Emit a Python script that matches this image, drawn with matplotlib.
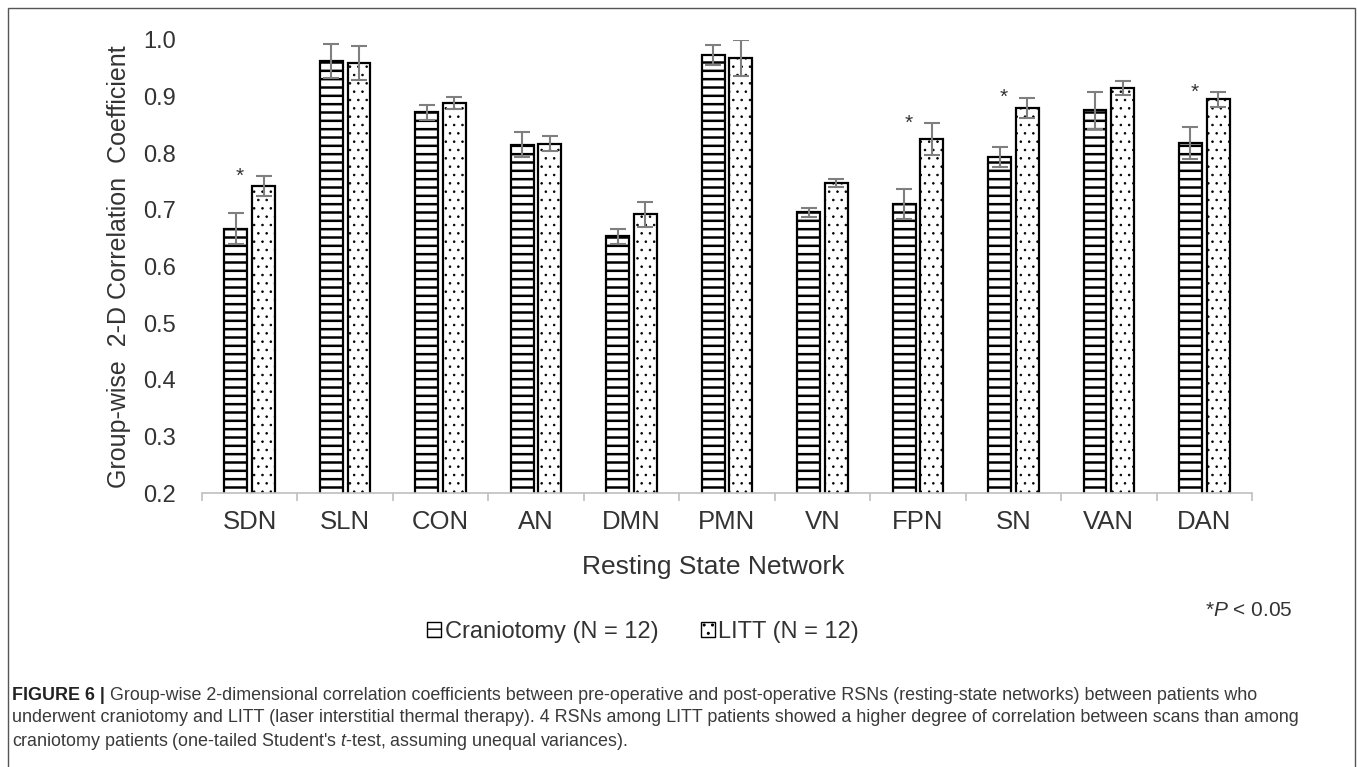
import matplotlib
matplotlib.use("Agg")
import matplotlib.pyplot as plt
import numpy as np
from matplotlib.patches import Rectangle, Patch
from matplotlib.ticker import FixedLocator
from matplotlib.text import Annotation

plt.rcParams['font.family'] = ['Liberation Sans', 'DejaVu Sans']
plt.rcParams['mathtext.fontset'] = 'custom'
plt.rcParams['mathtext.rm'] = 'Liberation Sans'
plt.rcParams['mathtext.it'] = 'Liberation Sans:italic'

# ---- data ----
networks = ["SDN", "SLN", "CON", "AN", "DMN", "PMN", "VN", "FPN", "SN", "VAN", "DAN"]
craniotomy = [0.667, 0.963, 0.872, 0.815, 0.653, 0.973, 0.696, 0.710, 0.793, 0.876, 0.818]
craniotomy_err = [0.027, 0.030, 0.014, 0.022, 0.014, 0.018, 0.008, 0.026, 0.018, 0.033, 0.028]
litt = [0.742, 0.960, 0.889, 0.817, 0.692, 0.968, 0.747, 0.825, 0.880, 0.915, 0.895]
litt_err = [0.018, 0.030, 0.010, 0.013, 0.022, 0.032, 0.007, 0.028, 0.018, 0.012, 0.013]
significant = ["SDN", "FPN", "SN", "DAN"]
series_labels = ["Craniotomy (N = 12)", "LITT (N = 12)"]

W, H = 1357, 767
fig = plt.figure(figsize=(W / 100, H / 100), dpi=100)
ax = fig.add_axes([202 / W, 1 - 493 / H, 1050 / W, 453 / H])

x = np.arange(len(networks))
bw = 0.24
off = 0.145
text_col = '#333333'


def set_hlw(container, lw):
    for p in container:
        if hasattr(p, 'set_hatch_linewidth'):
            p.set_hatch_linewidth(lw)


with plt.rc_context({'hatch.linewidth': 1.8}):
    b1 = ax.bar(x - off, craniotomy, bw, color='white', edgecolor='black',
                linewidth=1.6, hatch='--', zorder=2)
set_hlw(b1, 1.8)
with plt.rc_context({'hatch.linewidth': 0.6}):
    b2 = ax.bar(x + off, litt, bw, color='white', edgecolor='black',
                linewidth=1.6, hatch='..', zorder=2)
set_hlw(b2, 0.6)

ax.errorbar(x - off, craniotomy, yerr=craniotomy_err, fmt='none', ecolor='#7f7f7f',
            elinewidth=1.5, capsize=6, capthick=1.5, zorder=3)
ax.errorbar(x + off, litt, yerr=litt_err, fmt='none', ecolor='#7f7f7f',
            elinewidth=1.5, capsize=6, capthick=1.5, zorder=3)

for i, n in enumerate(networks):
    if n in significant:
        ax.text(i - 0.1, litt[i] + litt_err[i], "*", ha='center', va='center',
                fontsize=15, color=text_col)

yt = np.round(np.arange(0.2, 1.01, 0.1), 1)
ax.set_ylim(0.2, 1.0)
ax.set_xlim(-0.5, len(networks) - 0.5)
ax.set_yticks(yt)
ax.set_yticklabels([f"{v:.1f}" for v in yt])
ax.set_xticks(x)
ax.set_xticklabels(networks)
ax.xaxis.set_minor_locator(FixedLocator(np.arange(-0.5, len(networks), 1.0)))

for s in ['top', 'right', 'left']:
    ax.spines[s].set_visible(False)
ax.spines['bottom'].set_color('#bfbfbf')
ax.spines['bottom'].set_linewidth(1.2)

ax.tick_params(axis='y', length=0, pad=19, labelsize=17, labelcolor=text_col)
ax.tick_params(axis='x', which='major', length=0, pad=12, labelsize=18.5, labelcolor=text_col)
ax.tick_params(axis='x', which='minor', length=6, width=1.2, color='#bfbfbf')

ax.set_ylabel("Group-wise  2-D Correlation  Coefficient", fontsize=18, color=text_col)
ax.yaxis.set_label_coords(-0.079, 0.5)
ax.yaxis.label.set_va('center')
ax.set_xlabel("Resting State Network", fontsize=19, color=text_col)
ax.xaxis.set_label_coords(0.487, -0.163)
ax.xaxis.label.set_va('center')

fig.text(1205 / W, 1 - 610 / H, r"*$\it{P}$ < 0.05", fontsize=15, color=text_col,
         ha='left', va='center')

handles = [Patch(facecolor='white', edgecolor='black', hatch='--', linewidth=1.0),
           Patch(facecolor='white', edgecolor='black', hatch='..', linewidth=1.0)]
fig.legend(handles, series_labels, loc='center', bbox_to_anchor=(643 / W, 1 - 632 / H),
           ncol=2, frameon=False, fontsize=17, handlelength=0.6, handleheight=0.6,
           handletextpad=0.15, columnspacing=1.8, labelcolor=text_col)

# outer frame
fig.patches.append(Rectangle((8 / W, -0.01), (1355 - 8) / W, 1.01 - 8 / H,
                             transform=fig.transFigure, fill=False,
                             edgecolor='#555555', linewidth=1.0))

# caption
cap_col = '#3a3a3a'
cap_fs = 12.9
t1 = fig.text(12 / W, 1 - 695 / H, "FIGURE 6 |", fontsize=cap_fs, fontweight='bold',
              color='#222222', ha='left', va='center')
a = Annotation(" Group-wise 2-dimensional correlation coefficients between pre-operative and "
               "post-operative RSNs (resting-state networks) between patients who",
               xy=(1, 0.5), xycoords=t1, va='center', ha='left', fontsize=cap_fs, color=cap_col)
fig.add_artist(a)
fig.text(12 / W, 1 - 718 / H,
         "underwent craniotomy and LITT (laser interstitial thermal therapy). 4 RSNs among LITT "
         "patients showed a higher degree of correlation between scans than among",
         fontsize=cap_fs, color=cap_col, ha='left', va='center')
fig.text(12 / W, 1 - 741 / H,
         r"craniotomy patients (one-tailed Student's $\it{t}$-test, assuming unequal variances).",
         fontsize=cap_fs, color=cap_col, ha='left', va='center')

fig.savefig("out.png", dpi=100)
